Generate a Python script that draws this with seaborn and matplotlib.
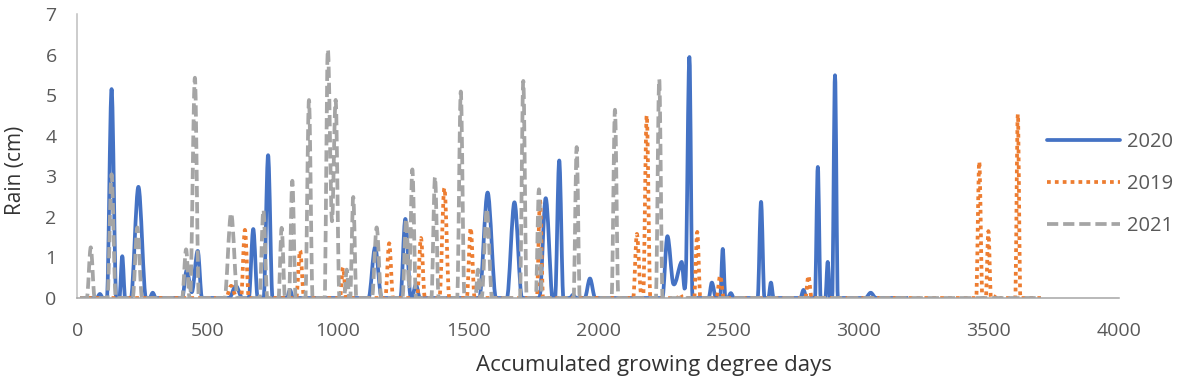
# Rain vs accumulated growing degree days, three seasons

import numpy as np
import matplotlib
matplotlib.use("Agg")
import matplotlib.pyplot as plt
from matplotlib.path import Path
from matplotlib.patches import PathPatch
from matplotlib.lines import Line2D
import seaborn as sns

# Data: accumulated GDD (x) and rain in cm (y)
gdd_2020 = [10, 74, 86, 98, 113, 131, 149, 161, 172, 183, 205, 234, 263, 277, 289, 301,
            402, 419, 440, 462, 478, 583, 608, 633, 658, 675, 692, 715, 732, 749, 804, 816, 828,
            1118, 1143, 1168, 1240, 1259, 1278, 1300, 1315, 1543, 1575, 1607, 1649, 1678, 1707,
            1774, 1798, 1822, 1834, 1850, 1866, 1891, 1903, 1915, 1948, 1968, 1988,
            2246, 2265, 2288, 2320, 2336, 2350, 2362, 2424, 2436, 2452, 2468, 2478, 2488,
            2497, 2509, 2521, 2612, 2625, 2638, 2653, 2663, 2673, 2776, 2788, 2800,
            2832, 2843, 2854, 2872, 2881, 2890, 2898, 2909, 2920, 3026, 3046, 3066, 3190]
rain_2020 = [0, 0, 0.1, 0, 0, 5.15, 0, 0, 1.03, 0, 0, 2.74, 0, 0, 0.13, 0,
             0, 0.68, 0.15, 1.16, 0, 0, 0.3, 0, 0, 1.70, 0, 0, 3.52, 0, 0, 0.2, 0,
             0, 1.25, 0, 0, 1.95, 0.05, 0.33, 0, 0, 2.6, 0, 0, 2.36, 0,
             0, 2.46, 0.05, 0, 3.39, 0, 0, 0.08, 0, 0, 0.48, 0,
             0, 1.52, 0.35, 0.89, 0.55, 5.94, 0, 0, 0.38, 0, 0, 1.21, 0,
             0, 0.12, 0, 0, 2.37, 0, 0, 0.38, 0, 0, 0.2, 0,
             0, 3.23, 0, 0, 0.89, 0, 0, 5.49, 0, 0, 0.13, 0, 0]

gdd_2019 = [10, 570, 590, 612, 628, 643, 658, 840, 855, 870, 1008, 1020, 1032,
            1182, 1197, 1212, 1304, 1319, 1334, 1390, 1409, 1428, 1495, 1510, 1525,
            1764, 1776, 1788, 2134, 2148, 2162, 2172, 2186, 2200, 2304, 2314, 2324,
            2368, 2380, 2392, 2454, 2468, 2482, 2795, 2807, 2819,
            3451, 3463, 3475, 3488, 3498, 3508, 3520, 3530, 3540, 3601, 3611, 3621, 3700]
rain_2019 = [0, 0, 0.3, 0, 0, 1.68, 0, 0, 1.17, 0, 0, 0.75, 0,
             0, 1.35, 0, 0, 1.48, 0, 0, 2.71, 0, 0, 1.73, 0,
             0, 2.42, 0, 0, 1.58, 0.2, 0, 4.5, 0, 0, 0.1, 0,
             0, 1.63, 0, 0, 0.55, 0, 0, 0.55, 0,
             0, 3.36, 0, 0, 1.65, 0, 0, 0.08, 0, 0, 4.53, 0, 0]

gdd_2021 = [10, 36, 51, 66, 115, 131, 147, 212, 230, 248, 402, 417, 434, 451, 466,
            565, 590, 615, 699, 714, 729, 772, 784, 797, 812, 825, 838, 875, 889, 903,
            949, 961, 977, 992, 1006, 1024, 1034, 1044, 1047, 1059, 1071, 1131, 1149, 1167,
            1248, 1262, 1274, 1286, 1300, 1359, 1373, 1387, 1458, 1472, 1486,
            1528, 1538, 1548, 1552, 1572, 1592, 1699, 1712, 1725, 1760, 1772, 1784,
            1905, 1917, 1929, 2051, 2064, 2077, 2221, 2234, 2247, 3700]
rain_2021 = [0, 0, 1.25, 0, 0, 3.05, 0, 0, 1.74, 0, 0, 1.2, 0.1, 5.43, 0,
             0, 2.09, 0, 0, 2.17, 0, 0, 1.73, 0, 0, 2.89, 0, 0, 4.88, 0,
             0, 6.10, 1.9, 4.86, 0, 0, 0.7, 0, 0, 2.49, 0, 0, 1.74, 0,
             0, 1.95, 0.3, 3.17, 0, 0, 2.98, 0, 0, 5.09, 0,
             0, 0.7, 0, 0, 2.2, 0, 0, 5.35, 0, 0, 2.68, 0,
             0, 3.72, 0, 0, 4.64, 0, 0, 5.39, 0, 0]

x_ticks = [0, 500, 1000, 1500, 2000, 2500, 3000, 3500, 4000]
y_ticks = [0, 1, 2, 3, 4, 5, 6, 7]


def smooth_path(xs, ys):
    # smoothed line like Excel's "smoothed line" option (cubic Hermite, bezier form)
    xs = np.asarray(xs, float)
    ys = np.asarray(ys, float)
    m = np.zeros(len(xs))
    m[1:-1] = (ys[2:] - ys[:-2]) / (xs[2:] - xs[:-2])
    m[ys == 0] = 0
    verts = [(xs[0], ys[0])]
    codes = [Path.MOVETO]
    for i in range(len(xs) - 1):
        dx = (xs[i + 1] - xs[i]) / 3
        verts += [(xs[i] + dx, ys[i] + m[i] * dx),
                  (xs[i + 1] - dx, ys[i + 1] - m[i + 1] * dx),
                  (xs[i + 1], ys[i + 1])]
        codes += [Path.CURVE4] * 3
    return Path(verts, codes)


sns.set_theme(style="white")
plt.rcParams["font.family"] = ["Open Sans", "DejaVu Sans"]

fig = plt.figure(figsize=(11.81, 3.83), dpi=100)
ax = fig.add_axes([0.0656, 0.2219, 0.882, 0.7415])

series = [
    ("2020", gdd_2020, rain_2020, "#4472C4", "-"),
    ("2019", gdd_2019, rain_2019, "#ED7D31", (0, (1.0, 1.1))),
    ("2021", gdd_2021, rain_2021, "#A5A5A5", (0, (3.0, 1.3))),
]
handles = []
for label, xs, ys, color, ls in series:
    patch = PathPatch(smooth_path(xs, ys), fill=False, edgecolor=color, lw=2.7,
                      linestyle=ls, capstyle="butt", joinstyle="round")
    ax.add_patch(patch)
    handles.append(Line2D([], [], color=color, lw=2.7, linestyle=ls, label=label))

ax.set_xlim(0, 4000)
ax.set_ylim(0, 7)
ax.set_xticks(x_ticks)
ax.set_yticks(y_ticks)
ax.tick_params(axis="both", length=0, labelsize=14, labelcolor="#595959")
ax.tick_params(axis="x", pad=17)
ax.tick_params(axis="y", pad=15)

sns.despine(ax=ax, top=True, right=True)
ax.spines["left"].set_color("#BFBFBF")
ax.spines["bottom"].set_color("#A6A6A6")
ax.spines["left"].set_linewidth(1.1)
ax.spines["bottom"].set_linewidth(1.1)

ax.set_xlabel("Accumulated growing degree days", fontsize=16, color="#333333")
ax.xaxis.set_label_coords(0.5535, -0.2)
ax.set_ylabel("Rain (cm)", fontsize=15, color="#333333")
ax.yaxis.set_label_coords(-0.0495, 0.45)

fig.legend(handles=handles, loc="upper left", bbox_to_anchor=(1047 / 1181, 1 - 132 / 383),
           frameon=False, fontsize=14.5, labelcolor="#595959", handlelength=3.6,
           handletextpad=0.35, labelspacing=1.1, borderpad=0, borderaxespad=0)

fig.savefig("out.png", dpi=100)
